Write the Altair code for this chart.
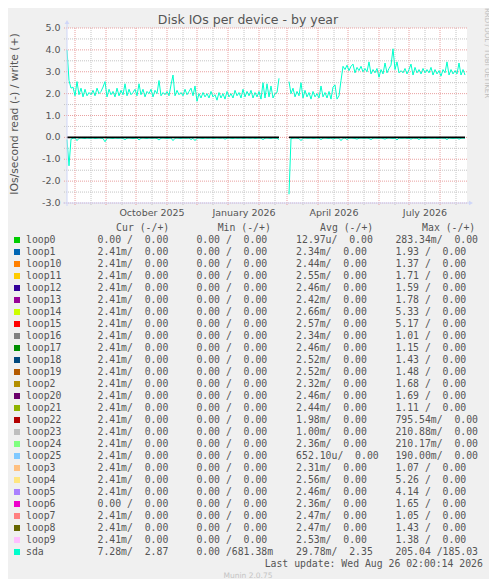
import altair as alt
import numpy as np
import pandas as pd

# ---------------- data ----------------
START = pd.Timestamp("2025-07-24")   # left edge of the yearly window
STEP_DAYS = 2

# sda daily IOs/s, write (+), sampled every 2 days; None = no data
sda_write = [
    4.0, 2.6, 2.25, 2.3, 1.9, 2.55, 1.95, 2.25, 1.85, 2.2,
    1.9, 2.05, 1.95, 2.15, 1.9, 2.25, 2.0, 2.1, 2.3, 2.55,
    1.85, 2.2, 1.95, 2.1, 1.85, 2.25, 1.9, 2.15, 1.95, 2.45,
    1.9, 2.2, 1.95, 2.05, 2.2, 1.9, 2.45, 1.95, 2.2, 1.85,
    2.1, 2.0, 2.2, 1.85, 2.15, 2.0, 2.6, 1.9, 2.05, 1.95,
    2.1, 1.9, 2.4, 2.85, 1.9, 2.15, 1.95, 2.05, 1.9, 2.2,
    1.95, 2.1, 2.25, 1.9, 2.35, 1.65, 2.0, 1.8, 2.05, 1.85,
    2.0, 1.8, 2.1, 1.85, 1.95, 1.7, 2.05, 1.8, 2.0, 1.75,
    2.1, 1.85, 2.0, 1.8, 2.15, 1.9, 2.05, 1.8, 2.2, 1.85,
    2.1, 1.9, 2.15, 1.8, 2.05, 1.85, 2.1, 1.75, 2.5, 1.8,
    2.45, 1.85, 2.35, 1.8, 2.0, 2.05, 2.7, None, None, None,
    None, 2.55, 2.0, 2.25, 1.85, 2.1, 1.9, 2.5, 1.8, 2.15,
    1.85, 2.05, 1.75, 2.1, 1.85, 2.0, 1.8, 2.35, 1.85, 2.05,
    1.8, 2.1, 1.75, 2.3, 2.4, 1.75, 1.9, 2.6, 3.25, 3.1,
    3.3, 3.05, 3.25, 3.35, 2.95, 3.2, 3.05, 3.25, 3.0, 3.15,
    3.0, 3.45, 2.9, 3.1, 2.95, 3.15, 2.75, 3.1, 2.9, 3.4,
    2.95, 3.15, 3.3, 4.05, 3.1, 3.45, 2.95, 3.05, 2.95, 3.15,
    2.9, 3.1, 3.35, 2.85, 3.2, 2.95, 3.1, 2.9, 3.15, 2.95,
    3.1, 2.95, 3.2, 2.85, 3.1, 2.9, 3.05, 2.8, 3.1, 2.95,
    3.45, 2.85, 3.1, 2.9, 3.05, 2.9, 3.4, 2.85, 3.1, 2.85,
]

# sda daily IOs/s, read (drawn negative)
sda_read = [
    0.1, 1.3, 0.08, 0.04, 0.03, 0.15, 0.04, 0.03, 0.04, 0.05,
    0.03, 0.04, 0.04, 0.03, 0.05, 0.04, 0.03, 0.04, 0.05, 0.2,
    0.04, 0.03, 0.04, 0.05, 0.03, 0.04, 0.04, 0.03, 0.05, 0.1,
    0.04, 0.03, 0.04, 0.05, 0.04, 0.03, 0.12, 0.04, 0.03, 0.04,
    0.05, 0.03, 0.04, 0.04, 0.03, 0.05, 0.12, 0.04, 0.03, 0.04,
    0.05, 0.04, 0.03, 0.15, 0.04, 0.03, 0.04, 0.05, 0.03, 0.04,
    0.04, 0.03, 0.1, 0.04, 0.15, 0.04, 0.03, 0.04, 0.05, 0.03,
    0.04, 0.04, 0.03, 0.05, 0.04, 0.03, 0.04, 0.04, 0.03, 0.08,
    0.04, 0.03, 0.04, 0.05, 0.03, 0.04, 0.04, 0.03, 0.05, 0.04,
    0.03, 0.04, 0.04, 0.03, 0.05, 0.04, 0.03, 0.04, 0.1, 0.04,
    0.03, 0.04, 0.05, 0.03, 0.04, 0.04, 0.1, None, None, None,
    None, 2.6, 0.05, 0.04, 0.03, 0.04, 0.05, 0.15, 0.04, 0.03,
    0.04, 0.04, 0.03, 0.05, 0.04, 0.03, 0.04, 0.1, 0.04, 0.03,
    0.04, 0.05, 0.03, 0.08, 0.04, 0.03, 0.04, 0.15, 0.04, 0.03,
    0.1, 0.04, 0.03, 0.04, 0.05, 0.08, 0.04, 0.03, 0.04, 0.04,
    0.03, 0.05, 0.1, 0.04, 0.03, 0.04, 0.04, 0.03, 0.05, 0.08,
    0.04, 0.03, 0.04, 0.05, 0.04, 0.12, 0.03, 0.04, 0.04, 0.03,
    0.05, 0.04, 0.08, 0.03, 0.04, 0.04, 0.1, 0.03, 0.04, 0.05,
    0.04, 0.03, 0.04, 0.04, 0.03, 0.05, 0.04, 0.03, 0.04, 0.04,
    0.1, 0.03, 0.04, 0.05, 0.04, 0.03, 0.08, 0.04, 0.03, 0.04,
]

# grid / tick positions
month_starts = ["2025-08-01", "2025-09-01", "2025-10-01", "2025-11-01", "2025-12-01",
                "2026-01-01", "2026-02-01", "2026-03-01", "2026-04-01", "2026-05-01",
                "2026-06-01", "2026-07-01", "2026-08-01"]
mid_months = ["2025-08-17", "2025-09-17", "2025-10-17", "2025-11-17", "2025-12-17",
              "2026-01-17", "2026-02-17", "2026-03-17", "2026-04-17", "2026-05-17",
              "2026-06-17", "2026-07-17", "2026-08-17"]
x_label_dates = ["2025-10-17", "2026-01-17", "2026-04-17", "2026-07-17"]
x_label_text = ["October 2025", "January 2026", "April 2026", "July 2026"]
y_major = [-3, -2, -1, 0, 1, 2, 3, 4, 5]
y_minor = [-2.5, -1.5, -0.5, 0.5, 1.5, 2.5, 3.5, 4.5]
y_label_text = ["-3.0", "-2.0", "-1.0", "0.0", "1.0", "2.0", "3.0", "4.0", "5.0"]

# legend table
names = ["loop0", "loop1", "loop10", "loop11", "loop12", "loop13", "loop14", "loop15",
         "loop16", "loop17", "loop18", "loop19", "loop2", "loop20", "loop21", "loop22",
         "loop23", "loop24", "loop25", "loop3", "loop4", "loop5", "loop6", "loop7",
         "loop8", "loop9", "sda"]
colors = ["#00CC00", "#0066B3", "#FF8000", "#FFCC00", "#330099", "#990099", "#CCFF00",
          "#FF0000", "#808080", "#008F00", "#00487D", "#B35A00", "#B38F00", "#6B006B",
          "#8FB300", "#B30000", "#BEBEBE", "#80FF80", "#80C9FF", "#FFC080", "#FFE680",
          "#AA80FF", "#EE00CC", "#FF8080", "#666600", "#FFBFFF", "#00FFCC"]
cur_read = [0, 2.41e-3, 2.41e-3, 2.41e-3, 2.41e-3, 2.41e-3, 2.41e-3, 2.41e-3, 2.41e-3,
            2.41e-3, 2.41e-3, 2.41e-3, 2.41e-3, 2.41e-3, 2.41e-3, 2.41e-3, 2.41e-3,
            2.41e-3, 2.41e-3, 2.41e-3, 2.41e-3, 2.41e-3, 0, 2.41e-3, 2.41e-3, 2.41e-3,
            7.28e-3]
cur_write = [0] * 26 + [2.87]
min_read = [0] * 27
min_write = [0] * 26 + [681.38e-3]
avg_read = [12.97e-6, 2.34e-3, 2.44e-3, 2.55e-3, 2.46e-3, 2.42e-3, 2.66e-3, 2.57e-3,
            2.34e-3, 2.46e-3, 2.52e-3, 2.52e-3, 2.32e-3, 2.46e-3, 2.44e-3, 1.98e-3,
            1.00e-3, 2.36e-3, 652.10e-6, 2.31e-3, 2.56e-3, 2.46e-3, 2.36e-3, 2.47e-3,
            2.47e-3, 2.53e-3, 29.78e-3]
avg_write = [0] * 26 + [2.35]
max_read = [283.34e-3, 1.93, 1.37, 1.71, 1.59, 1.78, 5.33, 5.17, 1.01, 1.15, 1.43, 1.48,
            1.68, 1.69, 1.11, 795.54e-3, 210.88e-3, 210.17e-3, 190.00e-3, 1.07, 5.26,
            4.14, 1.65, 1.05, 1.43, 1.38, 205.04]
max_write = [0] * 26 + [185.03]

TITLE = "Disk IOs per device - by year"
Y_TITLE = "IOs/second read (-) / write (+)"
HEADERS = ["Cur (-/+)", "Min (-/+)", "Avg (-/+)", "Max (-/+)"]
LAST_UPDATE = "Last update: Wed Aug 26 02:00:14 2026"
WATERMARK = "RRDTOOL / TOBI OETIKER"
FOOTER = "Munin 2.0.75"

# ---------------- helpers ----------------
FONT = "DejaVu Sans"
MONO = "DejaVu Sans Mono"
TXT = "#555555"
AXIS_C = "#CFD6F8"
NB = "\u00a0"


def si(v):
    if v == 0:
        return f"{0:6.2f} "
    prefixes = {-3: "n", -2: "u", -1: "m", 0: " ", 1: "k"}
    e = int(np.floor(np.log10(abs(v)) / 3 + 1e-9))
    return f"{v / 10 ** (3 * e):6.2f}{prefixes[e]}"


def pair(r, w):
    return (si(r) + "/" + si(w)).replace(" ", NB)


n = len(sda_write)
rows = []
for i in range(n):
    if sda_write[i] is None:
        continue
    rows.append({
        "date": (START + pd.Timedelta(days=STEP_DAYS * i)).strftime("%Y-%m-%d"),
        "write": sda_write[i],
        "read": sda_read[i],
        "seg": 0 if i < 107 else 1,
    })
sda_df = pd.DataFrame(rows)

xdom = [alt.DateTime(year=2025, month=7, date=24, utc=True),
        alt.DateTime(year=2026, month=8, date=28, utc=True)]
xs = alt.Scale(type="utc", domain=xdom)
ys = alt.Scale(domain=[-3, 5], nice=False, zero=False)

W, H = 400, 175
PAD_L, PAD_T = 59, 20
TOTAL_W, TOTAL_H = 481, 571

# ---------------- grid ----------------
def vgrid(dates, color):
    return alt.Chart(pd.DataFrame({"d": dates})).mark_rule(
        color=color, strokeWidth=1, strokeDash=[1, 1]
    ).encode(x=alt.X("d:T", scale=xs, axis=None), y=alt.value(0), y2=alt.value(H + 3))


def hgrid(vals, color):
    return alt.Chart(pd.DataFrame({"v": vals})).mark_rule(
        color=color, strokeWidth=1, strokeDash=[1, 1]
    ).encode(y=alt.Y("v:Q", scale=ys, axis=None), x=alt.value(-3), x2=alt.value(W))


GRAY = "#C4C4C4"
RED = "#E9A0A0"
grid_layers = [hgrid(y_minor, GRAY), vgrid(mid_months, GRAY),
               hgrid(y_major, RED), vgrid(month_starts, RED)]

# tick labels through the scales
xlab = alt.Chart(pd.DataFrame({"d": x_label_dates, "t": x_label_text})).mark_text(
    font=FONT, fontSize=9.5, color=TXT, align="center", baseline="alphabetic"
).encode(x=alt.X("d:T", scale=xs, axis=None), y=alt.value(188), text="t:N")
ylab = alt.Chart(pd.DataFrame({"v": y_major, "t": y_label_text})).mark_text(
    font=FONT, fontSize=9.5, color=TXT, align="right", baseline="middle"
).encode(y=alt.Y("v:Q", scale=ys, axis=None), x=alt.value(-6.4), text="t:N")

base = alt.Chart(sda_df)
write_line = base.mark_line(color="#00FFCC", strokeWidth=1).encode(
    x=alt.X("date:T", scale=xs, axis=None),
    y=alt.Y("write:Q", scale=ys, axis=None),
    detail="seg:N",
)
read_line = base.transform_calculate(neg="-datum.read").mark_line(
    color="#00FFCC", strokeWidth=1
).encode(
    x=alt.X("date:T", scale=xs, axis=None),
    y=alt.Y("neg:Q", scale=ys, axis=None),
    detail="seg:N",
)
zero_line = base.transform_calculate(zero="0").mark_line(
    color="#000000", strokeWidth=1.6
).encode(
    x=alt.X("date:T", scale=xs, axis=None),
    y=alt.Y("zero:Q", scale=ys, axis=None),
    detail="seg:N",
)

one = pd.DataFrame({"k": [0]})
x_axis_line = alt.Chart(one).mark_rule(color=AXIS_C, strokeWidth=1).encode(
    x=alt.value(-4), x2=alt.value(W + 3), y=alt.value(H))
y_axis_line = alt.Chart(one).mark_rule(color=AXIS_C, strokeWidth=1).encode(
    x=alt.value(0), y=alt.value(-5), y2=alt.value(H + 3))
x_arrow = alt.Chart(one).mark_point(shape="triangle-right", filled=True, size=22,
                                    color=AXIS_C, opacity=1).encode(
    x=alt.value(W + 4), y=alt.value(H))
y_arrow = alt.Chart(one).mark_point(shape="triangle-up", filled=True, size=22,
                                    color=AXIS_C, opacity=1).encode(
    x=alt.value(0), y=alt.value(-6))


def label(text, x, y, **kw):
    return alt.Chart(pd.DataFrame({"t": [text]})).mark_text(**kw).encode(
        x=alt.value(x), y=alt.value(y), text="t:N")


title = label(TITLE, 181, -4.5, font=FONT, fontSize=12.5, color=TXT,
              align="center", baseline="alphabetic")
ytitle = label(Y_TITLE, -52, 86, font=FONT, fontSize=10.8, color=TXT,
               align="center", baseline="middle", angle=270)
watermark = label(WATERMARK, 419.5, 25, font=FONT, fontSize=7, color="#BDBDBD",
                  align="center", baseline="middle", angle=90)
footer = label(FOOTER, 181, 548, font=FONT, fontSize=7.5, color="#C4C4C4",
               align="center", baseline="middle")
last_upd = label(LAST_UPDATE, 415.9, 538.7, font=MONO, fontSize=9.8, color=TXT,
                 align="right", baseline="alphabetic")
header_x = [49.1, 150.7, 253.1, 355.1]
headers = [label(h.replace(" ", NB), hx, 203.4, font=MONO, fontSize=9.8, color=TXT,
                 align="left", baseline="alphabetic") for h, hx in zip(HEADERS, header_x)]

main = alt.layer(*grid_layers, write_line, read_line, zero_line,
                 x_axis_line, y_axis_line, x_arrow, y_arrow, xlab, ylab,
                 title, ytitle, watermark, footer, last_upd, *headers)

# ---------------- legend table ----------------
leg = pd.DataFrame({
    "row": list(range(len(names))),
    "name": names,
    "color": colors,
    "cur": [pair(r, w) for r, w in zip(cur_read, cur_write)],
    "min": [pair(r, w) for r, w in zip(min_read, min_write)],
    "avg": [pair(r, w) for r, w in zip(avg_read, avg_write)],
    "max": [pair(r, w) for r, w in zip(max_read, max_write)],
})
rs = alt.Scale(domain=[0, len(names) - 1], range=[215.4, 215.4 + 12 * (len(names) - 1)],
               nice=False, zero=False)
ry = alt.Y("row:Q", scale=rs, axis=None)
lbase = alt.Chart(leg)
swatch = lbase.mark_square(size=36, opacity=1, yOffset=-3.4).encode(
    x=alt.value(-50), y=ry, color=alt.Color("color:N", scale=None))


def col(field, x):
    return lbase.mark_text(font=MONO, fontSize=9.8, color=TXT, align="left",
                           baseline="alphabetic").encode(
        x=alt.value(x), y=ry, text=f"{field}:N")


table = [swatch, col("name", -41), col("cur", 30.5), col("min", 129.4),
         col("avg", 229.1), col("max", 328.4)]

chart = alt.layer(main, *table).resolve_scale(y="independent").properties(
    width=W, height=H,
    padding={"left": PAD_L, "top": PAD_T,
             "right": TOTAL_W - PAD_L - W, "bottom": TOTAL_H - PAD_T - H},
    autosize=alt.AutoSizeParams(type="none"),
    background="#F0F0F0",
).configure_view(fill="white", strokeWidth=0)

chart.save("out.html", embed_options={"renderer": "svg", "actions": False})
